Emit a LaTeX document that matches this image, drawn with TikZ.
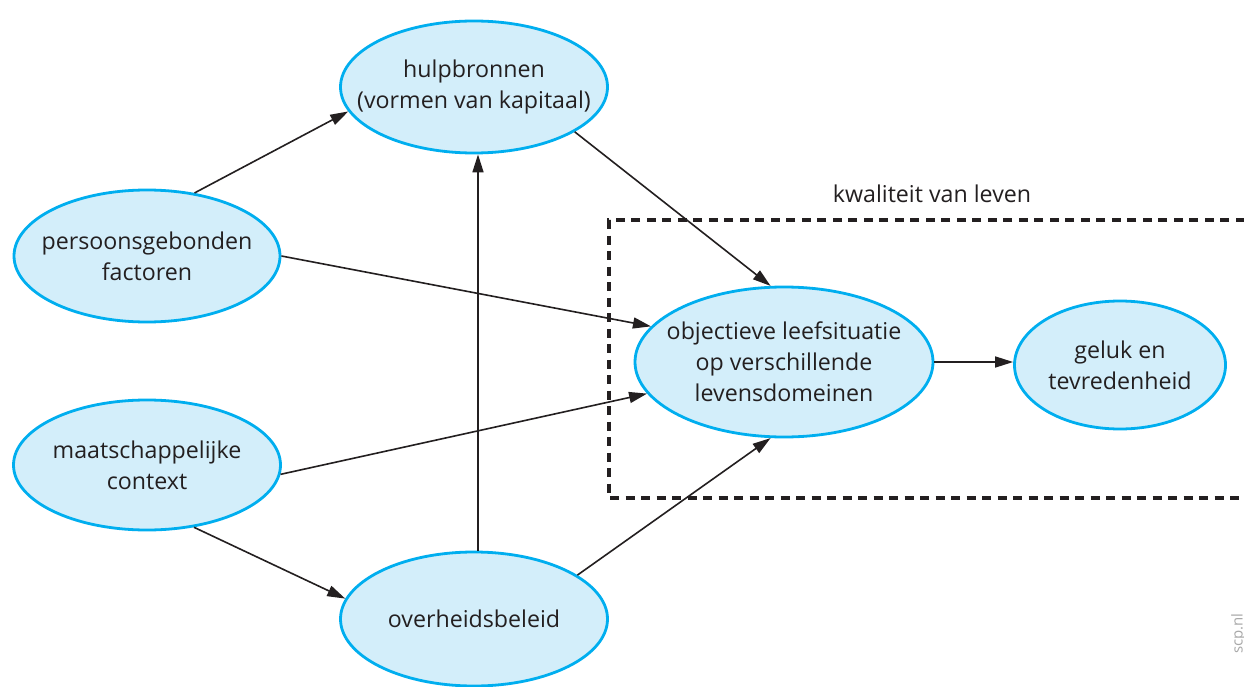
\documentclass[tikz,border=0pt]{standalone}
\usepackage{fontspec}
\setmainfont{Open Sans}
\usetikzlibrary{shapes.geometric,arrows.meta}
\definecolor{bordercyan}{HTML}{00AEEF}
\definecolor{fillblue}{HTML}{D3EEFA}
\definecolor{ink}{HTML}{231F20}
\definecolor{wmgray}{HTML}{A8A8A8}
\tikzset{
  ell/.style={ellipse, draw=bordercyan, fill=fillblue, line width=2.8pt, inner xsep=-40pt, inner ysep=-15pt, align=center, text=ink, font=\fontsize{23.2}{31}\selectfont},
  conn/.style={draw=ink, line width=1.6pt, -{Triangle[length=18pt,width=11pt]}},
  qbox/.style={draw=ink, line width=3.2pt, dash pattern=on 9pt off 6.5pt},
}
\begin{document}
\begin{tikzpicture}[x=1pt,y=-1pt]
\useasboundingbox (0,0) rectangle (1244,687);
\clip (0,0) rectangle (1244,687);
\fill[white] (0,0) rectangle (1244,687);
% quality of life box
\coordinate (qtr) at (1260,220);
\coordinate (qtl) at (609,220);
\coordinate (qbl) at (609,498);
\coordinate (qbr) at (1260,498);
\draw[qbox] (qtr) -- (qtl) -- (qbl) -- (qbr);
\node[text=ink, font=\fontsize{23.2}{28}\selectfont] (qlabel) at (932,194) {kwaliteit van leven};
% nodes
\node[ell, minimum width=267pt, minimum height=132pt] (h) at (474,87) {hulpbronnen\\(vormen van kapitaal)};
\node[ell, minimum width=266pt, minimum height=132pt] (p) at (147,256) {persoonsgebonden\\factoren};
\node[ell, minimum width=267pt, minimum height=130pt] (m) at (147,465) {maatschappelijke\\context};
\node[ell, minimum width=267pt, minimum height=134pt] (o) at (474,619) {overheidsbeleid};
\node[ell, minimum width=298pt, minimum height=150pt] (q) at (784,362) {objectieve leefsituatie\\op verschillende\\levensdomeinen};
\node[ell, minimum width=211pt, minimum height=128pt] (g) at (1120,365) {geluk en\\tevredenheid};
% connectors
\draw[conn] (p.53) -- (h.191);
\draw[conn] (h.336) -- (q.100);
\draw[conn] (p.0) -- (q.165);
\draw[conn] (m.356) -- (q.193);
\draw[conn] (m.307) -- (o.171);
\draw[conn] ([xshift=4pt]o.north) -- ([xshift=4pt]h.south);
\draw[conn] (o.23) -- (q.260);
\draw[conn] (q.east) -- (q.east -| g.west);
% watermark
\node[text=wmgray, rotate=90, font=\fontsize{15}{18}\selectfont, anchor=base west, inner sep=0pt] (wm) at (1242.5,654) {scp.nl};
\end{tikzpicture}
\end{document}
